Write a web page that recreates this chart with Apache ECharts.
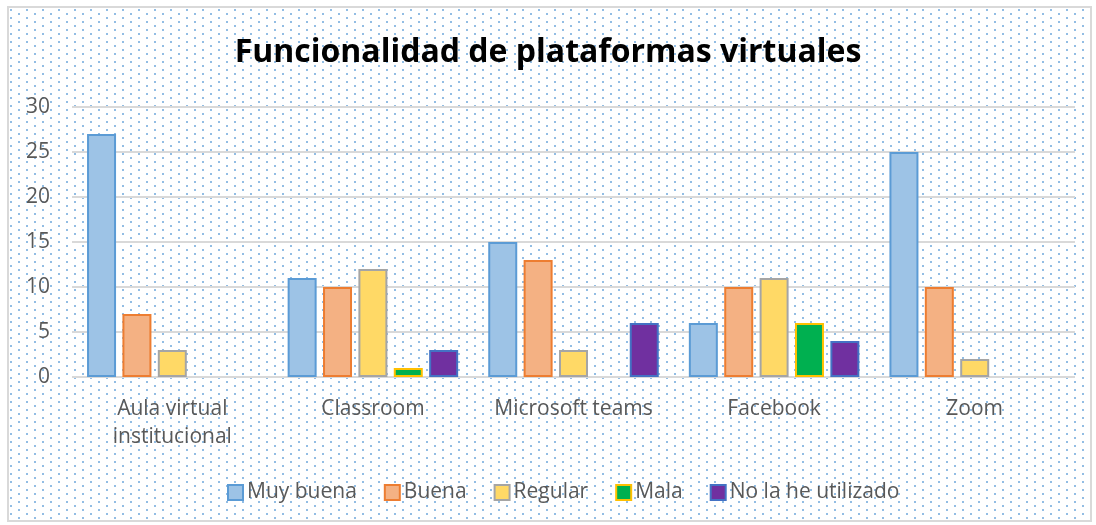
<!DOCTYPE html>
<html>
<head>
<meta charset="utf-8">
<script src="https://cdn.jsdelivr.net/npm/echarts@6/dist/echarts.min.js"></script>
<style>
  html, body { margin: 0; padding: 0; background: #fff; }
  #frame {
    position: absolute; left: 7px; top: 6px; width: 1081px; height: 512px;
    border: 2px solid #d9d9d9;
    background-color: #fff;
  }
  #chart { position: absolute; left: 0; top: 0; width: 1096px; height: 525px; }
</style>
</head>
<body>
<div id="frame"></div>
<div id="chart"></div>
<script>
  // valores
  var categorias = ["Aula virtual\ninstitucional", "Classroom", "Microsoft teams", "Facebook", "Zoom"];
  var muyBuena = [27, 11, 15, 6, 25];
  var buena = [7, 10, 13, 10, 10];
  var regular = [3, 12, 3, 11, 2];
  var mala = [0, 1, 0, 6, 0];
  var noUtilizado = [0, 3, 6, 4, 0];
  var yTicks = [0, 5, 10, 15, 20, 25, 30];

  var series = [
    { name: "Muy buena", data: muyBuena, fill: "#9dc3e6", border: "#5b9bd5" },
    { name: "Buena", data: buena, fill: "#f4b183", border: "#ed7d31" },
    { name: "Regular", data: regular, fill: "#ffd966", border: "#a5a5a5" },
    { name: "Mala", data: mala, fill: "#00b050", border: "#ffc000" },
    { name: "No la he utilizado", data: noUtilizado, fill: "#7030a0", border: "#4472c4" },
  ];

  // fondo punteado
  var tile = document.createElement("canvas");
  tile.width = 16;
  tile.height = 8;
  var ctx = tile.getContext("2d");
  ctx.fillStyle = "#92bde4";
  ctx.fillRect(1, 1, 2, 2);
  ctx.fillRect(9, 5, 2, 2);
  document.getElementById("frame").style.backgroundImage = "url(" + tile.toDataURL() + ")";

  var font = "'Open Sans', sans-serif";
  var myChart = echarts.init(document.getElementById("chart"), null, { renderer: "canvas" });
  var option = {
    backgroundColor: "transparent",
    animation: false,
    title: {
      text: "Funcionalidad de plataformas virtuales",
      left: "center",
      top: 32,
      textStyle: { color: "#000", fontSize: 32, fontWeight: "bold", fontFamily: font },
    },
    legend: {
      bottom: 17,
      left: 222,
      icon: "rect",
      itemWidth: 15,
      itemHeight: 15,
      itemGap: 27,
      textStyle: { color: "#595959", fontSize: 21, fontFamily: font, padding: [0, 0, 0, -1] },
      data: series.map(function (s) { return s.name; }),
    },
    grid: { left: 72, right: 21, top: 107, bottom: 148 },
    xAxis: {
      type: "category",
      data: categorias,
      axisLine: { show: false },
      axisTick: { show: false },
      axisLabel: { color: "#595959", fontSize: 21, fontFamily: font, margin: 18, lineHeight: 28, interval: 0 },
    },
    yAxis: {
      type: "value",
      min: yTicks[0],
      max: yTicks[yTicks.length - 1],
      interval: 5,
      axisLine: { show: false },
      axisTick: { show: false },
      axisLabel: { color: "#595959", fontSize: 21, fontFamily: font, margin: 22 },
      splitLine: { lineStyle: { color: "#d9d9d9", width: 2 } },
    },
    series: series.map(function (s) {
      return {
        name: s.name,
        type: "bar",
        barWidth: 29,
        barGap: "22%",
        itemStyle: { color: s.fill, borderColor: s.border, borderWidth: 2 },
        data: s.data.map(function (v) { return v === 0 ? null : v; }),
      };
    }),
  };
  myChart.setOption(option);
</script>
</body>
</html>
